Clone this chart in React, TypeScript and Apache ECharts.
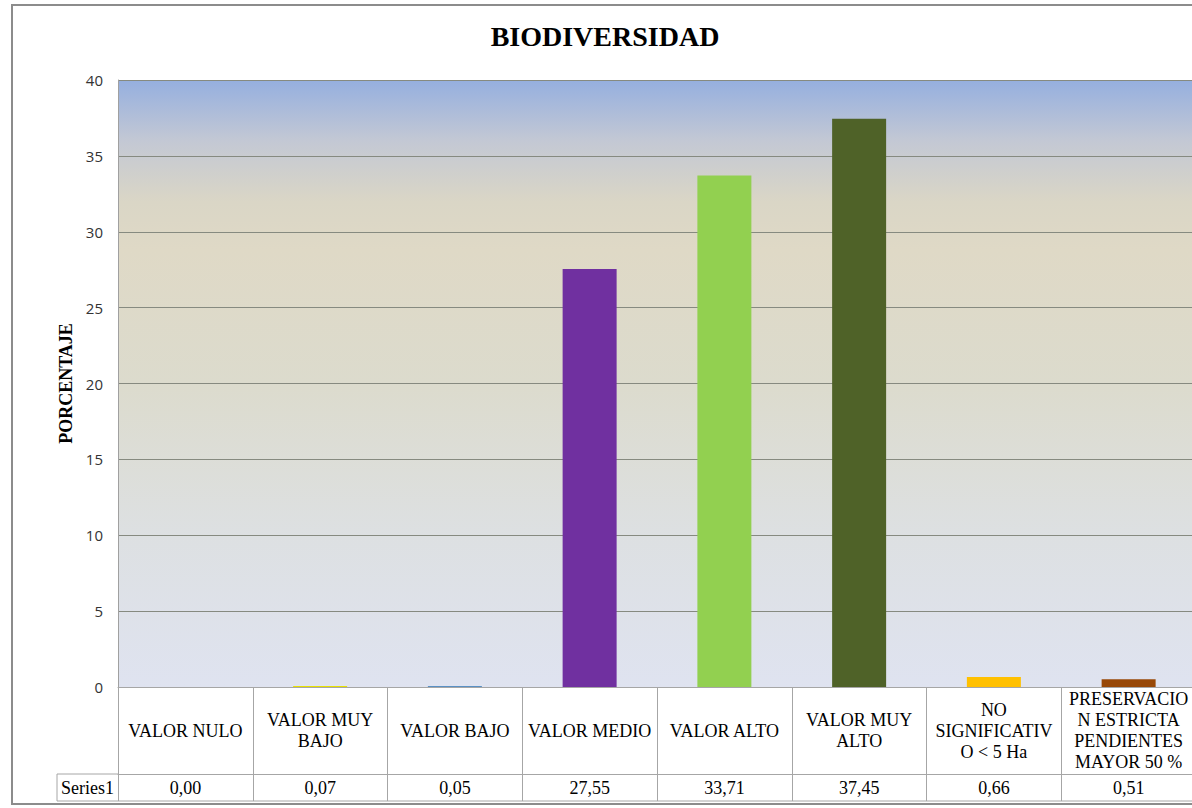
import React, { useEffect, useRef } from "react";
import * as echarts from "echarts";

const categories = [
  "VALOR NULO",
  "VALOR MUY\nBAJO",
  "VALOR BAJO",
  "VALOR MEDIO",
  "VALOR ALTO",
  "VALOR MUY\nALTO",
  "NO\nSIGNIFICATIV\nO < 5 Ha",
  "PRESERVACIO\nN ESTRICTA\nPENDIENTES\nMAYOR 50 %",
];
const values = [0.0, 0.07, 0.05, 27.55, 33.71, 37.45, 0.66, 0.51];
const seriesName = "Series1";
const yTicks = { min: 0, max: 40, interval: 5 };
const barColors = ["#C00000", "#E8E000", "#2E75B6", "#7030A0", "#92D050", "#4F6228", "#FFC000", "#984807"];

const fmt = (v: number) => v.toFixed(2).replace(".", ",");

const W = 1200;
const H = 808;
const PL = 118, PT = 80, PR = 1196, PB = 687;
const ROW1 = 774, ROW2 = 801;
const SERIF = "'Liberation Serif', 'Times New Roman', serif";
const SANS = "'Open Sans', 'Liberation Sans', sans-serif";
const TABLE_LINE = "#a6a6a6";

export default function App() {
  const ref = useRef<HTMLDivElement>(null);
  useEffect(() => {
    if (!ref.current) return;
    const chart = echarts.init(ref.current, undefined, { renderer: "svg" });
    chart.setOption({
      animation: false,
      backgroundColor: "#ffffff",
      title: {
        text: "BIODIVERSIDAD",
        left: 600,
        textAlign: "center",
        top: 17,
        textStyle: { fontFamily: SERIF, fontSize: 28, fontWeight: "bold", color: "#000" },
      },
      grid: {
        left: PL,
        top: PT,
        right: W - PR,
        bottom: H - PB,
        show: true,
        borderWidth: 0,
        backgroundColor: {
          type: "linear",
          x: 0, y: 0, x2: 0, y2: 1,
          colorStops: [
            { offset: 0, color: "#95AFDF" },
            { offset: 0.1, color: "#C3C8D4" },
            { offset: 0.2, color: "#DAD6C6" },
            { offset: 0.28, color: "#DFD9C6" },
            { offset: 0.5, color: "#DCDBCD" },
            { offset: 0.75, color: "#DDE0E2" },
            { offset: 1, color: "#DFE3F0" },
          ],
        },
      },
      xAxis: [
        {
          type: "category",
          data: categories,
          position: "bottom",
          axisLine: { show: true, lineStyle: { color: TABLE_LINE, width: 1 } },
          axisTick: { show: true, length: ROW1 - PB, lineStyle: { color: TABLE_LINE } },
          axisLabel: {
            interval: 0,
            margin: (ROW1 - PB) / 2,
            verticalAlign: "middle",
            align: "center",
            fontFamily: SERIF,
            fontSize: 18,
            lineHeight: 21,
            color: "#000",
          },
          splitLine: { show: false },
        },
        {
          type: "category",
          data: values.map(fmt),
          position: "bottom",
          offset: ROW1 - PB,
          axisLine: { show: true, lineStyle: { color: TABLE_LINE, width: 1 } },
          axisTick: { show: true, length: ROW2 - ROW1, lineStyle: { color: TABLE_LINE } },
          axisLabel: {
            interval: 0,
            margin: (ROW2 - ROW1) / 2,
            verticalAlign: "middle",
            align: "center",
            fontFamily: SERIF,
            fontSize: 18,
            color: "#000",
          },
        },
      ],
      yAxis: {
        type: "value",
        min: yTicks.min,
        max: yTicks.max,
        interval: yTicks.interval,
        name: "PORCENTAJE",
        nameLocation: "middle",
        nameGap: 38,
        nameRotate: 90,
        nameTextStyle: { fontFamily: SERIF, fontSize: 18, fontWeight: "bold", color: "#000" },
        axisLine: { show: true, lineStyle: { color: "#a0a0a0" } },
        axisTick: { show: false },
        axisLabel: { margin: 15, fontFamily: SANS, fontSize: 15, color: "#333333" },
        splitLine: { show: true, lineStyle: { color: "#868a80", width: 1 } },
      },
      series: [
        {
          name: seriesName,
          type: "bar",
          xAxisIndex: 0,
          barWidth: 54,
          data: values.map((v, i) => ({ value: v, itemStyle: { color: barColors[i] } })),
        },
      ],
      graphic: [
        {
          type: "rect",
          shape: { x: 12, y: 5, width: PR - 12 + 10, height: 804 - 5 },
          style: { fill: "none", stroke: "#8c8c8c", lineWidth: 2 },
          z: 100,
        },
        {
          type: "line",
          shape: { x1: 57, y1: ROW1, x2: PL, y2: ROW1 },
          style: { stroke: TABLE_LINE, lineWidth: 1 },
        },
        {
          type: "line",
          shape: { x1: 57, y1: ROW2, x2: PR, y2: ROW2 },
          style: { stroke: TABLE_LINE, lineWidth: 1 },
        },
        {
          type: "line",
          shape: { x1: 57, y1: ROW1, x2: 57, y2: ROW2 },
          style: { stroke: TABLE_LINE, lineWidth: 1 },
        },
        {
          type: "text",
          x: (57 + PL) / 2,
          y: (ROW1 + ROW2) / 2,
          style: {
            text: seriesName,
            fontFamily: SERIF,
            fontSize: 18,
            fill: "#000",
            align: "center",
            verticalAlign: "middle",
          },
        },
      ],
    });
    return () => chart.dispose();
  }, []);
  return (
    <div
      ref={ref}
      style={{ position: "fixed", left: 0, top: 0, width: W, height: H }}
    />
  );
}
